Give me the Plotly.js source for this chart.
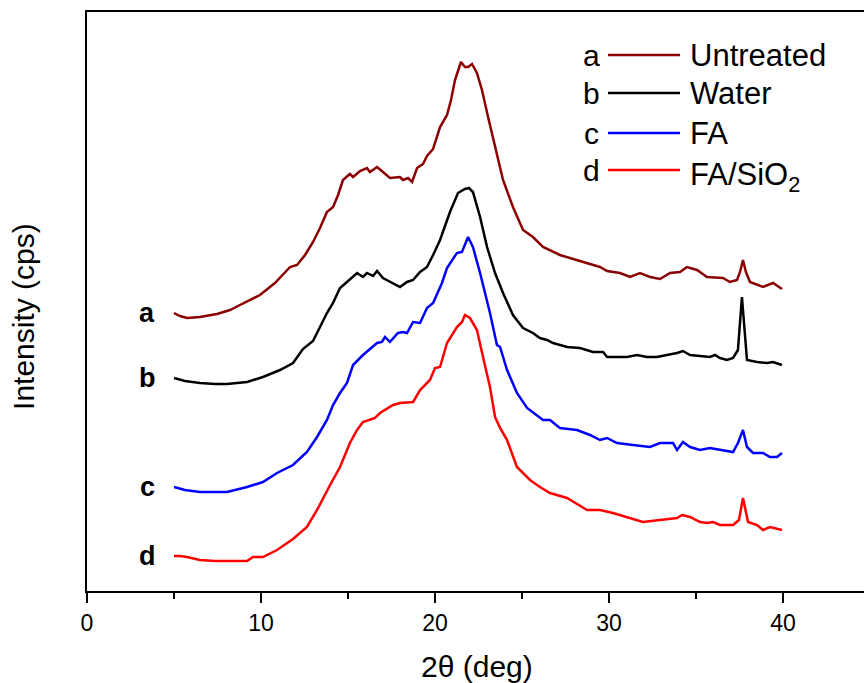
<!DOCTYPE html>
<html>
<head>
<meta charset="utf-8">
<script src="https://cdn.plot.ly/plotly-3.0.1.min.js"></script>
<style>
html,body{margin:0;padding:0;overflow:hidden;background:#fff;}
#chart{width:880px;height:683px;}
</style>
</head>
<body>
<div id="chart"></div>
<script>
// 2θ (deg) and intensity (arbitrary cps units, offset stacked as in the figure)
const xUntreated = [5.00,5.34,5.75,6.49,7.47,8.22,8.79,9.37,9.94,10.80,11.67,12.07,12.53,12.99,13.39,13.79,14.14,14.43,14.71,15.11,15.29,15.69,16.09,16.26,16.67,17.01,17.41,17.99,18.16,18.45,18.68,18.97,19.31,19.54,19.89,20.29,20.69,20.92,21.15,21.49,21.72,21.90,22.13,22.41,22.70,23.05,23.45,23.91,24.48,25.06,25.63,26.21,27.18,28.16,28.91,29.48,29.89,30.63,31.21,31.78,32.36,32.93,33.51,34.08,34.48,35.06,35.63,36.55,36.95,37.36,37.53,37.70,37.87,38.10,38.85,39.43,39.94];
const yUntreated = [278,275,273,274,277,281,286,291,296,308,324,326,336,349,363,379,384,396,411,417,414,420,423,419,424,419,413,414,411,413,409,423,427,435,442,464,476,491,511,529,524,524,527,518,501,474,444,411,384,361,354,344,336,331,327,324,320,318,314,318,314,312,318,319,324,321,314,313,309,311,319,331,319,309,304,308,302];

const xWater = [5.00,5.63,6.49,7.36,8.05,9.20,10.11,11.09,11.84,12.41,12.99,13.39,13.79,14.14,14.54,14.94,15.52,15.86,16.09,16.44,16.67,17.01,17.59,17.99,18.39,18.74,19.14,19.54,19.89,20.29,20.86,21.32,21.72,21.95,22.18,22.41,22.59,22.99,23.45,23.91,24.48,25.06,25.63,26.03,26.44,26.78,27.59,28.33,29.08,29.66,29.89,31.03,31.61,32.18,32.76,33.33,33.91,34.25,34.66,35.23,35.80,36.09,36.38,36.78,37.13,37.41,37.64,37.93,38.51,39.08,39.43,39.94];
const yWater = [213,210,208,207,207,209,214,221,228,242,250,264,278,288,303,309,318,314,318,315,320,313,308,304,309,311,319,324,336,351,379,398,402,403,399,384,374,344,318,298,276,263,258,253,251,248,244,243,239,239,234,234,236,234,234,236,238,240,236,235,234,236,233,231,233,241,294,231,229,228,229,226];

const xFA = [5.00,5.63,6.49,7.36,8.05,9.20,10.11,10.92,11.84,12.64,13.22,13.79,14.14,14.54,14.94,15.29,15.86,16.67,16.95,17.13,17.41,17.87,18.16,18.39,18.74,19.14,19.54,19.89,20.40,20.69,21.26,21.55,21.90,22.18,22.59,23.16,23.56,23.74,24.14,24.71,25.29,26.21,26.61,27.18,28.16,28.91,29.48,29.89,30.46,31.38,32.36,32.93,33.68,33.91,34.25,34.66,35.23,35.80,36.38,37.13,37.41,37.70,37.93,38.28,38.85,39.25,39.66,39.94];
const yFA = [104,101,99,99,99,104,109,118,126,139,154,171,186,198,208,226,236,248,249,254,249,258,259,258,269,268,283,288,308,323,338,339,354,344,318,278,246,244,221,198,183,171,171,163,161,156,151,153,148,146,144,148,148,141,149,144,141,143,141,139,148,161,144,138,138,134,134,138];

const xFASiO2 = [5.00,5.34,5.75,6.49,7.36,8.05,9.20,9.54,10.11,10.92,11.84,12.64,13.22,13.97,14.54,15.11,15.52,15.86,16.55,16.84,17.59,17.99,18.74,19.14,19.71,20.00,20.29,20.69,21.26,21.55,21.72,22.01,22.41,22.76,23.16,23.45,23.74,24.14,24.71,25.46,26.03,26.61,27.59,28.74,29.48,30.23,31.03,31.95,32.93,33.91,34.20,34.66,35.23,35.63,35.98,36.38,37.13,37.47,37.70,37.99,38.51,38.85,39.25,39.94];
const yFASiO2 = [35,35,34,31,30,30,30,34,34,41,52,64,81,106,124,148,161,169,173,178,186,188,189,201,211,223,224,248,264,269,276,273,261,234,204,174,163,151,124,111,104,98,93,81,81,78,74,69,71,73,76,74,69,68,69,66,66,71,93,69,66,61,64,61];

const seriesNames = ["Untreated","Water","FA","FA/SiO<sub>2</sub>"];
const seriesLetters = ["a","b","c","d"];
const seriesColors = ["#8B0000","#000000","#0000FF","#FF0000"];
const xTicks = [0,10,20,30,40];
const xTitle = "2θ (deg)";
const yTitle = "Intensity (cps)";

const xs = [xUntreated,xWater,xFA,xFASiO2];
const ys = [yUntreated,yWater,yFA,yFASiO2];

const traces = xs.map((x,i)=>({
  x: x, y: ys[i], type:'scatter', mode:'lines', name: seriesNames[i],
  line:{color: seriesColors[i], width:2.5}
}));

const font = "Liberation Sans, Arial, sans-serif";

const annotations = [];
const shapes = [];
// curve labels at left
xs.forEach((x,i)=>{
  annotations.push({x:3.45, y: ys[i][0], xref:'x', yref:'y', text:'<b>'+seriesLetters[i]+'</b>',
    showarrow:false, xanchor:'center', yanchor:'middle', font:{family:font, size:27, color:'#000'}});
});
// legend (letter, line sample, name)
const legRowY = [0.9257,0.8601,0.7910,0.7271];
seriesLetters.forEach((l,i)=>{
  annotations.push({x:0.6437, y:legRowY[i], xref:'paper', yref:'paper', text:l, showarrow:false,
    xanchor:'center', yanchor:'middle', font:{family:font, size:30, color:'#000'}});
  shapes.push({type:'line', xref:'paper', yref:'paper', x0:0.6654, x1:0.7573, y0:legRowY[i], y1:legRowY[i],
    line:{color:seriesColors[i], width:2.5}});
  annotations.push({x:0.7676, y:legRowY[i] + (i===3 ? -0.012 : 0), xref:'paper', yref:'paper', text:seriesNames[i],
    showarrow:false, xanchor:'left', yanchor:'middle', font:{family:font, size:31, color:'#000'}});
});
// axis titles
annotations.push({x:0.498, y:-0.131, xref:'paper', yref:'paper', text:xTitle, showarrow:false,
  xanchor:'center', yanchor:'middle', font:{family:font, size:30, color:'#000'}});
annotations.push({x:-0.0805, y:0.475, xref:'paper', yref:'paper', text:yTitle, showarrow:false, textangle:-90,
  xanchor:'center', yanchor:'middle', font:{family:font, size:30, color:'#000'}});

const layout = {
  width:880, height:683,
  margin:{l:87, r:10, t:12, b:92},
  paper_bgcolor:'#fff', plot_bgcolor:'#fff',
  font:{family:font, color:'#000'},
  showlegend:false,
  xaxis:{range:[0,45], tickvals:xTicks, ticks:'outside', ticklen:10, tickwidth:2, tickcolor:'#000',
    showline:true, linewidth:2, linecolor:'#000', mirror:true, showgrid:false, zeroline:false,
    tickfont:{family:font, size:23, color:'#000'},
    minor:{dtick:5, tick0:0, ticks:'outside', ticklen:6, tickwidth:2, tickcolor:'#000', showgrid:false}},
  yaxis:{range:[0,579], showticklabels:false, ticks:'', showline:true, linewidth:2, linecolor:'#000',
    mirror:true, showgrid:false, zeroline:false},
  annotations: annotations,
  shapes: shapes
};

Plotly.newPlot('chart', traces, layout, {displayModeBar:false, staticPlot:true});
</script>
</body>
</html>
